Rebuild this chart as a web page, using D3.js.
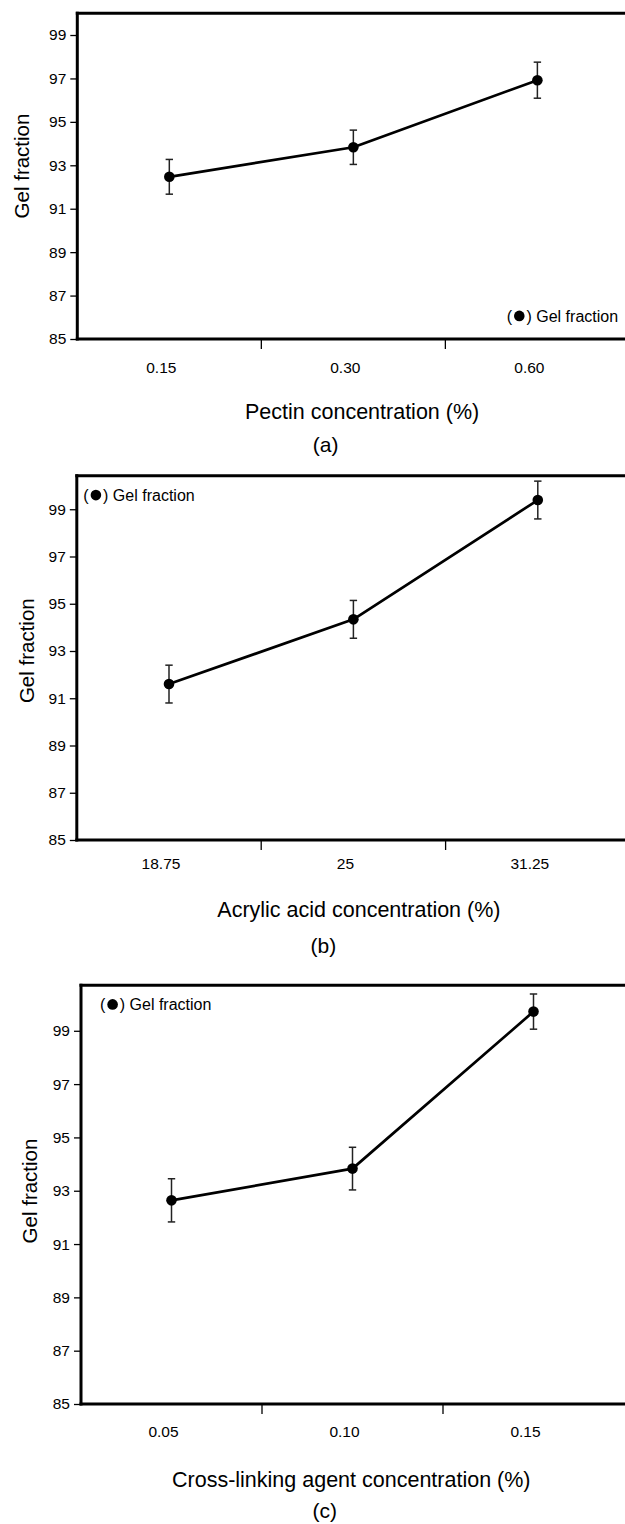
<!DOCTYPE html>
<html><head><meta charset="utf-8">
<script src="https://cdn.jsdelivr.net/npm/d3@7"></script>
<style>html,body{margin:0;padding:0;background:#fff;} svg{display:block;}</style>
</head><body>
<svg id="chart" width="625" height="1524"></svg>
<script>
// ---- data ----
const yTicks = [85, 87, 89, 91, 93, 95, 97, 99];
const pectinLabels = ["0.15", "0.30", "0.60"];
const pectinValues = [92.47, 93.83, 96.92];
const pectinErrors = [0.80, 0.79, 0.83];
const acrylicLabels = ["18.75", "25", "31.25"];
const acrylicValues = [91.60, 94.34, 99.39];
const acrylicErrors = [0.80, 0.80, 0.80];
const crosslinkLabels = ["0.05", "0.10", "0.15"];
const crosslinkValues = [92.64, 93.83, 99.72];
const crosslinkErrors = [0.81, 0.80, 0.66];
const yTitle = "Gel fraction";
const legendText = "Gel fraction";
const xTitles = ["Pectin concentration (%)", "Acrylic acid concentration (%)", "Cross-linking agent concentration (%)"];
const panelTags = ["(a)", "(b)", "(c)"];
const yMaxes = [100, 100.42, 100.71];

// ---- layout ----
const layout = [
  {left: 77.3, right: 629.4, top: 13.3, bottom: 339, tickBase: 34.3, titleX: 245, titleBase: 418.5, tagX: 325.6, tagBase: 452,
   yTitleX: 29, yTitleY: 166, legX: 506.7, legY: 321.5},
  {left: 76.8, right: 630, top: 475.7, bottom: 840, tickBase: 29.4, titleX: 217.3, titleBase: 917.3, tagX: 323.3, tagBase: 953.3,
   yTitleX: 34, yTitleY: 650.7, legX: 83.3, legY: 500.7},
  {left: 81, right: 624, top: 985.2, bottom: 1404, tickBase: 32.7, titleX: 172, titleBase: 1486.5, tagX: 324.7, tagBase: 1518,
   yTitleX: 36.5, yTitleY: 1191, legX: 100, legY: 1010}
];
const series = [
  {labels: pectinLabels, values: pectinValues, errors: pectinErrors},
  {labels: acrylicLabels, values: acrylicValues, errors: acrylicErrors},
  {labels: crosslinkLabels, values: crosslinkValues, errors: crosslinkErrors}
];
const FONT = "'Liberation Sans', Arial, sans-serif";
const W = 625;

const svg = d3.select("#chart");

series.forEach((s, i) => {
  const L = layout[i];
  const g = svg.append("g");
  const x = d3.scaleBand().domain(s.labels).range([L.left, L.right]).padding(0);
  const y = d3.scaleLinear().domain([85, yMaxes[i]]).range([L.bottom, L.top]);

  // y axis ticks
  const yAxis = d3.axisLeft(y).tickValues(yTicks).tickFormat(d3.format("d")).tickSize(7).tickPadding(4);
  const ya = g.append("g").attr("transform", `translate(${L.left},0)`).call(yAxis);
  ya.select(".domain").remove();
  ya.selectAll(".tick line").attr("stroke", "#000").attr("stroke-width", 1.3);
  ya.selectAll(".tick text").attr("font-family", FONT).attr("font-size", 15.5).attr("fill", "#000");

  // frame: left, top, bottom
  g.append("line").attr("x1", L.left).attr("x2", L.left).attr("y1", L.top - 1.5).attr("y2", L.bottom + 1.5)
    .attr("stroke", "#000").attr("stroke-width", 3);
  g.append("line").attr("x1", L.left - 1.5).attr("x2", W).attr("y1", L.top).attr("y2", L.top)
    .attr("stroke", "#000").attr("stroke-width", 3);
  g.append("line").attr("x1", L.left - 1.5).attr("x2", W).attr("y1", L.bottom).attr("y2", L.bottom)
    .attr("stroke", "#000").attr("stroke-width", 3);

  // x ticks at category boundaries
  const bounds = s.labels.slice(1).map(d => x(d));
  g.selectAll(".xtick").data(bounds).enter().append("line")
    .attr("x1", d => d).attr("x2", d => d).attr("y1", L.bottom).attr("y2", L.bottom + 10)
    .attr("stroke", "#000").attr("stroke-width", 1.3);

  // x tick labels
  g.selectAll(".xlab").data(s.labels).enter().append("text")
    .attr("x", d => x(d) + x.bandwidth() / 2 - 8).attr("y", L.bottom + L.tickBase)
    .attr("text-anchor", "middle").attr("font-family", FONT).attr("font-size", 15.5).text(d => d);

  const pts = s.labels.map((d, k) => ({cx: x(d) + x.bandwidth() / 2, v: s.values[k], e: s.errors[k]}));

  // error bars
  const eb = g.selectAll(".eb").data(pts).enter().append("g");
  eb.append("line").attr("x1", d => d.cx).attr("x2", d => d.cx).attr("y1", d => y(d.v - d.e)).attr("y2", d => y(d.v + d.e))
    .attr("stroke", "#222").attr("stroke-width", 1.5);
  eb.append("line").attr("x1", d => d.cx - 3.7).attr("x2", d => d.cx + 3.7).attr("y1", d => y(d.v + d.e)).attr("y2", d => y(d.v + d.e))
    .attr("stroke", "#222").attr("stroke-width", 1.5);
  eb.append("line").attr("x1", d => d.cx - 3.7).attr("x2", d => d.cx + 3.7).attr("y1", d => y(d.v - d.e)).attr("y2", d => y(d.v - d.e))
    .attr("stroke", "#222").attr("stroke-width", 1.5);

  // connecting line
  g.append("path").datum(pts).attr("fill", "none").attr("stroke", "#000").attr("stroke-width", 2.7)
    .attr("stroke-linejoin", "round")
    .attr("d", d3.line().x(d => d.cx).y(d => y(d.v)));

  // dots
  g.selectAll(".dot").data(pts).enter().append("circle")
    .attr("cx", d => d.cx).attr("cy", d => y(d.v)).attr("r", 5.3).attr("fill", "#000");

  // legend
  const lg = g.append("g").attr("transform", `translate(${L.legX},${L.legY})`);
  lg.append("text").attr("x", 0).attr("y", 0).attr("font-family", FONT).attr("font-size", 16).text("(");
  lg.append("circle").attr("cx", 12.6).attr("cy", -5.6).attr("r", 5.3).attr("fill", "#000");
  lg.append("text").attr("x", 19.8).attr("y", 0).attr("font-family", FONT).attr("font-size", 16).text(") " + legendText);

  // y title
  g.append("text").attr("transform", `translate(${L.yTitleX},${L.yTitleY}) rotate(-90)`)
    .attr("text-anchor", "middle").attr("font-family", FONT).attr("font-size", 20.5).text(yTitle);

  // x title
  g.append("text").attr("x", L.titleX).attr("y", L.titleBase).attr("font-family", FONT).attr("font-size", 21.5).text(xTitles[i]);

  // panel tag
  g.append("text").attr("x", L.tagX).attr("y", L.tagBase).attr("text-anchor", "middle")
    .attr("font-family", FONT).attr("font-size", 21).text(panelTags[i]);
});
</script>
</body></html>
